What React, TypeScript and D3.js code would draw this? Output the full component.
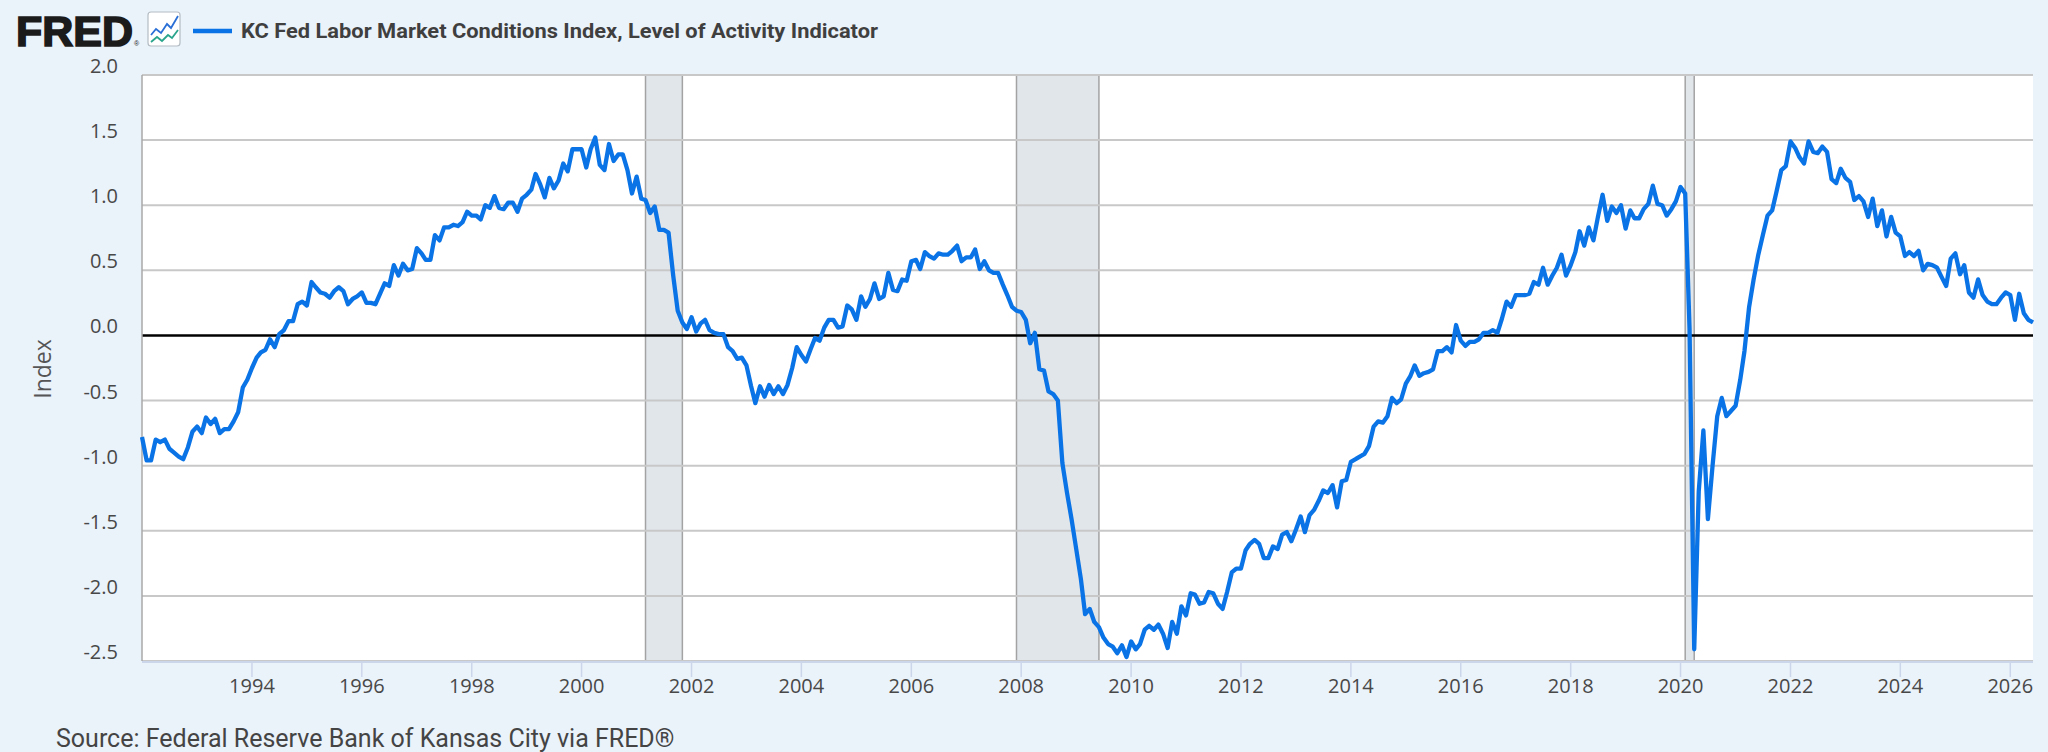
import * as d3 from 'd3'
import { useEffect, useRef } from 'react'

// KC Fed LMCI, level of activity — monthly, starting Jan 1992
const firstMonth = '1992-01-01'

const values1990s = [
  -0.78, -0.96, -0.96, -0.80, -0.82, -0.80, -0.87, -0.90, -0.93, -0.95, -0.86, -0.74,
  -0.70, -0.75, -0.63, -0.68, -0.64, -0.75, -0.72, -0.72, -0.66, -0.59, -0.40, -0.34,
  -0.25, -0.17, -0.13, -0.11, -0.03, -0.09, 0.01, 0.04, 0.11, 0.11, 0.24, 0.26,
  0.23, 0.41, 0.37, 0.33, 0.32, 0.29, 0.34, 0.37, 0.34, 0.24, 0.28, 0.30,
  0.33, 0.25, 0.25, 0.24, 0.32, 0.40, 0.38, 0.54, 0.46, 0.55, 0.50, 0.51,
  0.67, 0.63, 0.58, 0.58, 0.77, 0.73, 0.83, 0.83, 0.85, 0.84, 0.87, 0.95,
  0.92, 0.92, 0.89, 1.00, 0.98, 1.07, 0.98, 0.97, 1.02, 1.02, 0.95, 1.05,
  1.08, 1.12, 1.24, 1.16, 1.06, 1.21, 1.13, 1.19, 1.32, 1.26, 1.43, 1.43,
]

const values2000s = [
  1.43, 1.29, 1.43, 1.52, 1.31, 1.27, 1.47, 1.34, 1.39, 1.39, 1.27, 1.09,
  1.22, 1.05, 1.04, 0.94, 0.99, 0.81, 0.81, 0.79, 0.46, 0.19, 0.10, 0.05,
  0.14, 0.03, 0.09, 0.12, 0.04, 0.02, 0.01, 0.01, -0.09, -0.12, -0.18, -0.17,
  -0.23, -0.39, -0.52, -0.39, -0.47, -0.38, -0.45, -0.39, -0.45, -0.38, -0.25, -0.09,
  -0.15, -0.20, -0.11, -0.02, -0.04, 0.06, 0.12, 0.12, 0.06, 0.07, 0.23, 0.20,
  0.12, 0.30, 0.22, 0.28, 0.40, 0.28, 0.30, 0.48, 0.35, 0.34, 0.43, 0.42,
  0.57, 0.58, 0.51, 0.64, 0.61, 0.59, 0.63, 0.62, 0.62, 0.65, 0.69, 0.57,
  0.60, 0.60, 0.66, 0.51, 0.57, 0.50, 0.48, 0.48, 0.39, 0.31, 0.22, 0.19,
  0.18, 0.12, -0.06, 0.02, -0.26, -0.27, -0.43, -0.45, -0.50, -0.98, -1.21, -1.41,
  -1.64, -1.87, -2.14, -2.10, -2.20, -2.24, -2.32, -2.37, -2.39, -2.44, -2.38, -2.47,
]

const values2010s = [
  -2.35, -2.41, -2.37, -2.26, -2.23, -2.26, -2.22, -2.29, -2.40, -2.20, -2.29, -2.08,
  -2.15, -1.98, -1.99, -2.06, -2.05, -1.97, -1.98, -2.06, -2.10, -1.97, -1.82, -1.79,
  -1.79, -1.65, -1.60, -1.57, -1.60, -1.71, -1.71, -1.62, -1.64, -1.53, -1.51, -1.58,
  -1.49, -1.39, -1.51, -1.38, -1.34, -1.27, -1.19, -1.21, -1.15, -1.32, -1.12, -1.11,
  -0.97, -0.95, -0.93, -0.91, -0.85, -0.70, -0.66, -0.67, -0.62, -0.48, -0.52, -0.49,
  -0.37, -0.31, -0.23, -0.31, -0.29, -0.28, -0.26, -0.12, -0.12, -0.09, -0.13, 0.08,
  -0.04, -0.08, -0.05, -0.05, -0.03, 0.02, 0.02, 0.04, 0.02, 0.13, 0.26, 0.22,
  0.31, 0.31, 0.31, 0.32, 0.41, 0.39, 0.52, 0.39, 0.46, 0.52, 0.62, 0.46,
  0.54, 0.64, 0.80, 0.69, 0.83, 0.73, 0.91, 1.08, 0.88, 0.99, 0.94, 1.00,
  0.82, 0.96, 0.90, 0.90, 0.97, 1.01, 1.15, 1.01, 1.00, 0.92, 0.97, 1.03,
]

const values2020s = [
  1.14, 1.09, 0.05, -2.41, -1.20, -0.73, -1.41, -1.00, -0.62, -0.48, -0.62, -0.58,
  -0.54, -0.34, -0.12, 0.22, 0.43, 0.62, 0.77, 0.92, 0.96, 1.11, 1.27, 1.30,
  1.49, 1.44, 1.37, 1.32, 1.49, 1.41, 1.40, 1.45, 1.41, 1.20, 1.17, 1.28,
  1.21, 1.18, 1.04, 1.07, 1.03, 0.91, 1.05, 0.84, 0.96, 0.76, 0.91, 0.79,
  0.76, 0.61, 0.64, 0.61, 0.65, 0.50, 0.55, 0.54, 0.52, 0.45, 0.38, 0.59,
  0.63, 0.47, 0.54, 0.33, 0.29, 0.43, 0.31, 0.26, 0.24, 0.24, 0.29, 0.33,
  0.31, 0.12, 0.32, 0.17, 0.12, 0.10,
]

const recessionStarts = ['2001-03-01', '2007-12-01', '2020-02-01']
const recessionEnds = ['2001-11-01', '2009-06-01', '2020-04-01']

const yTicks = [-2.5, -2.0, -1.5, -1.0, -0.5, 0.0, 0.5, 1.0, 1.5, 2.0]
const xTickYears = [1994, 1996, 1998, 2000, 2002, 2004, 2006, 2008, 2010, 2012, 2014, 2016, 2018, 2020, 2022, 2024, 2026]

const titleText = 'KC Fed Labor Market Conditions Index, Level of Activity Indicator'
const sourceText = 'Source: Federal Reserve Bank of Kansas City via FRED®'
const yLabel = 'Index'

const W = 2048
const H = 752
const plotLeft = 142
const plotRight = 2033
const plotTop = 75
const plotBottom = 661
const lineBlue = '#0a74e6'

export default function App() {
  const svgRef = useRef(null) as any

  useEffect(() => {
    document.body.style.margin = '0'
    const parse = d3.timeParse('%Y-%m-%d')
    const start = parse(firstMonth) as Date
    const all = [...values1990s, ...values2000s, ...values2010s, ...values2020s]
    const data = all.map((v, i) => ({ date: d3.timeMonth.offset(start, i), value: v }))

    const svg = d3.select(svgRef.current)
    svg.selectAll('*').remove()

    const x = d3.scaleTime()
      .domain(d3.extent(data, d => d.date) as [Date, Date])
      .range([plotLeft, plotRight])
    const y = d3.scaleLinear().domain([-2.5, 2.0]).range([plotBottom, plotTop])

    svg.append('rect').attr('width', W).attr('height', H).attr('fill', '#eaf2fa')
    svg.append('rect')
      .attr('x', plotLeft).attr('y', plotTop)
      .attr('width', plotRight - plotLeft).attr('height', plotBottom - plotTop)
      .attr('fill', '#ffffff')

    // recession shading
    const rec = recessionStarts.map((s, i) => ({ s: parse(s) as Date, e: parse(recessionEnds[i]) as Date }))
    const band = svg.append('g')
    band.selectAll('rect').data(rec).enter().append('rect')
      .attr('x', d => x(d.s))
      .attr('y', plotTop)
      .attr('width', d => x(d.e) - x(d.s))
      .attr('height', plotBottom - plotTop)
      .attr('fill', '#e1e6eb')
    const edges = rec.flatMap(d => [d.s, d.e])
    band.selectAll('line').data(edges).enter().append('line')
      .attr('x1', d => x(d)).attr('x2', d => x(d))
      .attr('y1', plotTop).attr('y2', plotBottom)
      .attr('stroke', '#a3a3a3').attr('stroke-width', 1.5)

    // grid
    svg.append('g').selectAll('line').data(yTicks.filter(t => t !== 0)).enter().append('line')
      .attr('x1', plotLeft).attr('x2', plotRight)
      .attr('y1', d => y(d)).attr('y2', d => y(d))
      .attr('stroke', '#c8c8c8').attr('stroke-width', 2)

    svg.append('line')
      .attr('x1', plotLeft).attr('x2', plotRight)
      .attr('y1', y(0)).attr('y2', y(0))
      .attr('stroke', '#000000').attr('stroke-width', 2.5)

    // axes lines
    svg.append('line')
      .attr('x1', plotLeft).attr('x2', plotLeft)
      .attr('y1', plotTop).attr('y2', plotBottom)
      .attr('stroke', '#a8a8a8').attr('stroke-width', 1.5)
    svg.append('line')
      .attr('x1', plotLeft).attr('x2', plotRight)
      .attr('y1', plotBottom + 1).attr('y2', plotBottom + 1)
      .attr('stroke', '#ccd6eb').attr('stroke-width', 2)

    const xTicks = xTickYears.map(yr => new Date(yr, 0, 1))
    svg.append('g').selectAll('line').data(xTicks).enter().append('line')
      .attr('x1', d => x(d)).attr('x2', d => x(d))
      .attr('y1', plotBottom + 2).attr('y2', plotBottom + 16)
      .attr('stroke', '#ccd6eb').attr('stroke-width', 1.5)

    svg.append('g').selectAll('text').data(xTicks).enter().append('text')
      .attr('x', d => x(d))
      .attr('y', plotBottom + 32)
      .attr('text-anchor', 'middle')
      .attr('font-family', '"Open Sans", sans-serif')
      .attr('font-size', 20)
      .attr('fill', '#484848')
      .text(d => d3.timeFormat('%Y')(d))

    svg.append('g').selectAll('text').data(yTicks).enter().append('text')
      .attr('x', plotLeft - 24)
      .attr('y', d => y(d) - 2)
      .attr('text-anchor', 'end')
      .attr('font-family', '"Open Sans", sans-serif')
      .attr('font-size', 20)
      .attr('fill', '#484848')
      .text(d => d3.format('.1f')(d).replace('\u2212', '-'))

    svg.append('text')
      .attr('transform', `translate(51,${(plotTop + plotBottom) / 2 + 1}) rotate(-90)`)
      .attr('text-anchor', 'middle')
      .attr('font-family', '"Open Sans", sans-serif')
      .attr('font-size', 23)
      .attr('fill', '#555555')
      .text(yLabel)

    // series
    const line = d3.line<{ date: Date, value: number }>()
      .x(d => x(d.date))
      .y(d => y(d.value))
    svg.append('path')
      .datum(data)
      .attr('d', line)
      .attr('fill', 'none')
      .attr('stroke', lineBlue)
      .attr('stroke-width', 4.3)
      .attr('stroke-linejoin', 'round')

    // header: FRED logo, icon, legend
    svg.append('text')
      .attr('x', 16).attr('y', 46)
      .attr('font-family', '"Liberation Sans", Arial, sans-serif')
      .attr('font-weight', 900)
      .attr('font-size', 42)
      .attr('textLength', 117)
      .attr('lengthAdjust', 'spacingAndGlyphs')
      .attr('fill', '#1b1b1b')
      .attr('stroke', '#1b1b1b')
      .attr('stroke-width', 1.6)
      .text('FRED')
    svg.append('text')
      .attr('x', 134).attr('y', 46)
      .attr('font-family', '"Liberation Sans", Arial, sans-serif')
      .attr('font-size', 7)
      .attr('fill', '#1b1b1b')
      .text('®')
    const icon = svg.append('g')
    icon.append('rect')
      .attr('x', 148).attr('y', 12).attr('width', 32).attr('height', 34).attr('rx', 3)
      .attr('fill', '#ffffff').attr('stroke', '#b4bcc4').attr('stroke-width', 1.2)
    icon.append('polyline')
      .attr('points', '151,35 156,29 161,33 167,24 171,28 178,16')
      .attr('fill', 'none').attr('stroke', '#2a6fd6').attr('stroke-width', 1.8)
    icon.append('polyline')
      .attr('points', '151,42 157,37 162,41 168,35 172,38 178,30')
      .attr('fill', 'none').attr('stroke', '#2aa58c').attr('stroke-width', 1.8)

    svg.append('line')
      .attr('x1', 193).attr('x2', 232).attr('y1', 31).attr('y2', 31)
      .attr('stroke', lineBlue).attr('stroke-width', 4.5)
    svg.append('text')
      .attr('x', 241).attr('y', 38)
      .attr('font-family', 'Roboto, sans-serif')
      .attr('font-weight', 700)
      .attr('font-size', 21)
      .attr('textLength', 637)
      .attr('lengthAdjust', 'spacingAndGlyphs')
      .attr('fill', '#3f3f3f')
      .text(titleText)

    svg.append('text')
      .attr('x', 56).attr('y', 747)
      .attr('font-family', 'Roboto, sans-serif')
      .attr('font-size', 25)
      .attr('fill', '#444444')
      .text(sourceText)
  }, [])

  return (
    <svg ref={svgRef} width={W} height={H} style={{ display: 'block' }} />
  )
}
